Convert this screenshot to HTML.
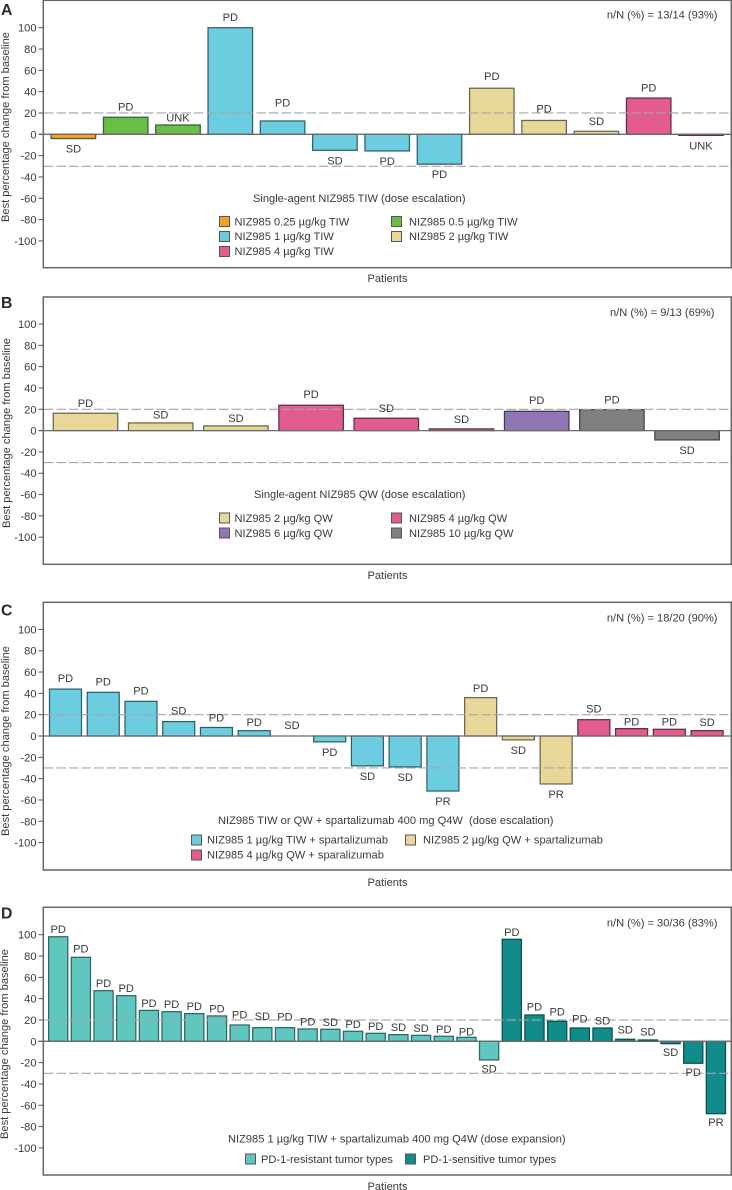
<!DOCTYPE html>
<html lang="en">
<head>
<meta charset="utf-8">
<title>Best percentage change from baseline by patient</title>
<style>
html,body{margin:0;padding:0;background:#fff;width:732px;height:1190px;overflow:hidden}
svg{display:block;position:absolute;left:0;top:0}
text{font-family:"Liberation Sans",Arial,sans-serif;font-size:11.1px;fill:#3a3a3a}
.letter{font-size:15.8px;font-weight:bold;fill:#2a2a2a}
.legend-swatch{stroke:#555;stroke-width:1}
</style>
</head>
<body>
<svg id="chart" xmlns="http://www.w3.org/2000/svg" width="732" height="1190" viewBox="0 0 732 1190">
  <g>
    <text class="letter" x="1" y="15">A</text>
    <text x="717.5" y="18.5" text-anchor="end">n/N (%) = 13/14 (93%)</text>
    <text x="253" y="202">Single-agent NIZ985 TIW (dose escalation)</text>
    <text x="387.5" y="282" text-anchor="middle">Patients</text>
    <text transform="translate(9,127) rotate(-90)" text-anchor="middle">Best percentage change from baseline</text>
    <g>
      <g><rect class="legend-swatch" x="219.5" y="216.5" width="10" height="10" fill="#f6a11f"/><text x="234.5" y="225.5">NIZ985 0.25 µg/kg TIW</text></g>
      <g><rect class="legend-swatch" x="391.5" y="216.5" width="10" height="10" fill="#6abd45"/><text x="409" y="225.5">NIZ985 0.5 µg/kg TIW</text></g>
      <g><rect class="legend-swatch" x="219.5" y="231.5" width="10" height="10" fill="#6ccde0"/><text x="234.5" y="240">NIZ985 1 µg/kg TIW</text></g>
      <g><rect class="legend-swatch" x="391.5" y="231.5" width="10" height="10" fill="#e7d798"/><text x="409" y="240">NIZ985 2 µg/kg TIW</text></g>
      <g><rect class="legend-swatch" x="219.5" y="246.5" width="10" height="10" fill="#e35c90"/><text x="234.5" y="255">NIZ985 4 µg/kg TIW</text></g>
    </g>
  </g>
  <g>
    <text class="letter" x="1" y="308">B</text>
    <text x="714.5" y="316" text-anchor="end">n/N (%) = 9/13 (69%)</text>
    <text x="254" y="498">Single-agent NIZ985 QW (dose escalation)</text>
    <text x="387.5" y="579" text-anchor="middle">Patients</text>
    <text transform="translate(10,433) rotate(-90)" text-anchor="middle">Best percentage change from baseline</text>
    <g>
      <g><rect class="legend-swatch" x="219.5" y="513" width="10" height="10" fill="#e7d798"/><text x="234.5" y="522">NIZ985 2 µg/kg QW</text></g>
      <g><rect class="legend-swatch" x="391.5" y="513" width="10" height="10" fill="#e35c90"/><text x="409" y="522">NIZ985 4 µg/kg QW</text></g>
      <g><rect class="legend-swatch" x="219.5" y="528" width="10" height="10" fill="#9175b5"/><text x="234.5" y="537">NIZ985 6 µg/kg QW</text></g>
      <g><rect class="legend-swatch" x="391.5" y="528" width="10" height="10" fill="#808080"/><text x="409" y="537">NIZ985 10 µg/kg QW</text></g>
    </g>
  </g>
  <g>
    <text class="letter" x="1" y="615.5">C</text>
    <text x="717.5" y="621.5" text-anchor="end">n/N (%) = 18/20 (90%)</text>
    <text x="218" y="824" xml:space="preserve">NIZ985 TIW or QW + spartalizumab 400 mg Q4W  (dose escalation)</text>
    <text x="387.5" y="886" text-anchor="middle">Patients</text>
    <text transform="translate(9,741) rotate(-90)" text-anchor="middle">Best percentage change from baseline</text>
    <g>
      <g><rect class="legend-swatch" x="191.5" y="835" width="10" height="10" fill="#6ccde0"/><text x="207" y="843.5">NIZ985 1 µg/kg TIW + spartalizumab</text></g>
      <g><rect class="legend-swatch" x="405.5" y="835" width="10" height="10" fill="#e7d798"/><text x="423" y="843.5">NIZ985 2 µg/kg QW + spartalizumab</text></g>
      <g><rect class="legend-swatch" x="191.5" y="850" width="10" height="10" fill="#e35c90"/><text x="207" y="858.5">NIZ985 4 µg/kg QW + sparalizumab</text></g>
    </g>
  </g>
  <g>
    <text class="letter" x="1" y="918.5">D</text>
    <text x="717.5" y="926.5" text-anchor="end">n/N (%) = 30/36 (83%)</text>
    <text x="228" y="1142.5">NIZ985 1 µg/kg TIW + spartalizumab 400 mg Q4W (dose expansion)</text>
    <text x="387.5" y="1190" text-anchor="middle">Patients</text>
    <text transform="translate(8,1044) rotate(-90)" text-anchor="middle">Best percentage change from baseline</text>
    <g>
      <g><rect class="legend-swatch" x="245.5" y="1154" width="10" height="10" fill="#5fc6c0"/><text x="261" y="1163">PD-1-resistant tumor types</text></g>
      <g><rect class="legend-swatch" x="405.5" y="1154" width="10" height="10" fill="#118c8b"/><text x="423" y="1163">PD-1-sensitive tumor types</text></g>
    </g>
  </g>
</svg>
<script>
var yTickValues = [100, 80, 60, 40, 20, 0, -20, -40, -60, -80, -100];
var thresholdValues = [20, -30];

var panelAValues = [-4, 16, 8.75, 100, 12.5, -15, -15.6, -28, 43.2, 13, 2.8, 34, -1];
var panelALabels = ['SD', 'PD', 'UNK', 'PD', 'PD', 'SD', 'PD', 'PD', 'PD', 'PD', 'SD', 'PD', 'UNK'];
var panelAGroups = ['dose025', 'dose05', 'dose05', 'dose1', 'dose1', 'dose1', 'dose1', 'dose1', 'dose2', 'dose2', 'dose2', 'dose4', 'dose4'];

var panelBValues = [16.3, 7.2, 4.4, 23.8, 11.6, 1.6, 18.1, 19.7, -8.75];
var panelBLabels = ['PD', 'SD', 'SD', 'PD', 'SD', 'SD', 'PD', 'PD', 'SD'];
var panelBGroups = ['dose2', 'dose2', 'dose2', 'dose4', 'dose4', 'dose4', 'dose6', 'dose10', 'dose10'];

var panelCValues = [44, 41, 32.5, 13.5, 8, 5, 0, -5.5, -28, -29, -51.6, 36, -3.6, -45, 15.3, 6.9, 6.3, 5];
var panelCLabels = ['PD', 'PD', 'PD', 'SD', 'PD', 'PD', 'SD', 'PD', 'SD', 'SD', 'PR', 'PD', 'SD', 'PR', 'SD', 'PD', 'PD', 'SD'];
var panelCGroups = ['dose1', 'dose1', 'dose1', 'dose1', 'dose1', 'dose1', 'dose1', 'dose1', 'dose1', 'dose1', 'dose1', 'dose2', 'dose2', 'dose2', 'dose4', 'dose4', 'dose4', 'dose4'];

var panelDValues = [98.1, 78.8, 47.5, 42.8, 29, 27.8, 26, 23.8, 15.3, 12.8, 12.8, 11.6, 11.3, 9.4, 7.5, 6.25, 5.6, 4.7, 3.75, -17.5, 95.7, 24.7, 18.8, 12.5, 12.5, 1.9, 1.25, -2.2, -20.6, -67.9];
var panelDLabels = ['PD', 'PD', 'PD', 'PD', 'PD', 'PD', 'PD', 'PD', 'PD', 'SD', 'PD', 'PD', 'SD', 'PD', 'PD', 'SD', 'SD', 'PD', 'PD', 'SD', 'PD', 'PD', 'PD', 'PD', 'SD', 'SD', 'SD', 'SD', 'PD', 'PR'];
var panelDGroups = ['resistant', 'resistant', 'resistant', 'resistant', 'resistant', 'resistant', 'resistant', 'resistant', 'resistant', 'resistant', 'resistant', 'resistant', 'resistant', 'resistant', 'resistant', 'resistant', 'resistant', 'resistant', 'resistant', 'resistant', 'sensitive', 'sensitive', 'sensitive', 'sensitive', 'sensitive', 'sensitive', 'sensitive', 'sensitive', 'sensitive', 'sensitive'];

var groupFill = {dose025:'#f6a11f', dose05:'#6abd45', dose1:'#6ccde0', dose2:'#e7d798', dose4:'#e35c90', dose6:'#9175b5', dose10:'#808080', resistant:'#5fc6c0', sensitive:'#118c8b'};
var groupStroke = {dose025:'#5a5040', dose05:'#3c5a3c', dose1:'#2f6068', dose2:'#6a6550', dose4:'#5a3044', dose6:'#3f3a55', dose10:'#444', resistant:'#2f6662', sensitive:'#0b4f4e'};

var SVG_NS = 'http://www.w3.org/2000/svg';
var root = document.getElementById('chart');

function make(parent, tag, attrs) {
  var el = document.createElementNS(SVG_NS, tag);
  for (var k in attrs) el.setAttribute(k, attrs[k]);
  parent.appendChild(el);
  return el;
}

function drawPanel(id, values, labels, groups, g) {
  var panel = make(root, 'g', {});
  
  

  function yScale(v) { return g.zero - v * 1.066; }
  function xScale(i) { return g.firstCenter + i * g.step; }

  var frame = make(panel, 'rect', {x: 43.3, y: g.top, width: 688, height: g.bottom - g.top, fill: 'none', stroke: '#666', 'stroke-width': 1.5});
  
  

  yTickValues.forEach(function (v) {
    var tick = make(panel, 'line', {x1: 38.5, x2: 43, y1: yScale(v), y2: yScale(v), stroke: '#555', 'stroke-width': 1});
    
    
    var label = make(panel, 'text', {x: 36.5, y: yScale(v) + 4, 'text-anchor': 'end'});
    label.textContent = String(v);
    
    
  });

  values.forEach(function (v, i) {
    if (v === 0) return;
    var y0 = yScale(Math.max(v, 0));
    var y1 = yScale(Math.min(v, 0));
    var bar = make(panel, 'rect', {
      x: xScale(i) - g.barWidth / 2, y: y0, width: g.barWidth, height: y1 - y0,
      fill: groupFill[groups[i]], stroke: groupStroke[groups[i]], 'stroke-width': 1.25
    });
    
    
  });

  thresholdValues.forEach(function (v) {
    var line = make(panel, 'line', {x1: 44, x2: 731, y1: yScale(v), y2: yScale(v), stroke: '#a6a6a6', 'stroke-width': 1.1, 'stroke-dasharray': '9.5 3'});
    
    
  });

  var zeroLine = make(panel, 'line', {x1: 38.5, x2: 731, y1: g.zero, y2: g.zero, stroke: '#6a6a6a', 'stroke-width': 1.3});
  
  

  labels.forEach(function (t, i) {
    var v = values[i];
    var y = (v < 0 ? yScale(v) + g.gapBelow : yScale(v) - g.gapAbove) + (g.nudge[i] || 0);
    var label = make(panel, 'text', {x: xScale(i), y: y, 'text-anchor': 'middle'});
    label.textContent = t;
    
    
  });
}

drawPanel('a', panelAValues, panelALabels, panelAGroups, {top: 0.3, bottom: 267.7, zero: 134.3, firstCenter: 73.4, step: 52.3, barWidth: 44.5, gapAbove: 6.5, gapBelow: 14, nudge: {2: 3, 4: -8, 8: -1.5, 9: -1.5}});
drawPanel('b', panelBValues, panelBLabels, panelBGroups, {top: 297, bottom: 564.3, zero: 430.6, firstCenter: 85.5, step: 75.2, barWidth: 64.5, gapAbove: 6, gapBelow: 14, nudge: {1: 1.4, 2: 2.3, 3: -1, 6: -1.3}});
drawPanel('c', panelCValues, panelCLabels, panelCGroups, {top: 602.3, bottom: 870, zero: 736, firstCenter: 65.5, step: 37.74, barWidth: 32, gapAbove: 7, gapBelow: 14, nudge: {4: 1.2, 5: 2.3, 11: 1.4, 15: 4, 16: 3.4, 17: 2.3}});
drawPanel('d', panelDValues, panelDLabels, panelDGroups, {top: 907.3, bottom: 1175, zero: 1041.3, firstCenter: 58.2, step: 22.68, barWidth: 19.2, gapAbove: 3.5, gapBelow: 12.5, nudge: {1: -1.5, 8: -3, 9: -4, 10: -3.5, 18: 1.5, 21: -1, 22: -2.5, 23: -2, 25: -2.5, 26: -1}});
</script>
</body>
</html>
